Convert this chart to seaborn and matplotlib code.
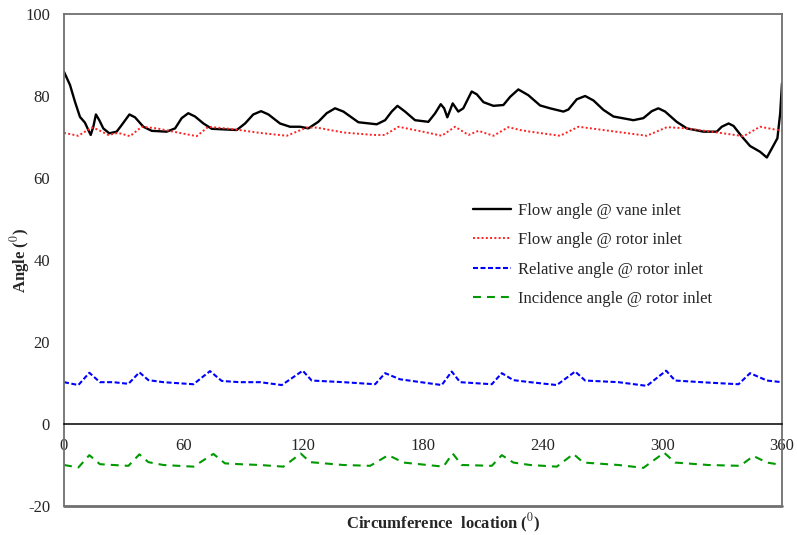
import numpy as np
import pandas as pd
import matplotlib
matplotlib.use("Agg")
import matplotlib.pyplot as plt
import seaborn as sns

# flow angle @ vane inlet (black)
vane_x = [0, 3, 5.5, 8, 10.5, 12.2, 13.4, 14.7, 16, 17.7, 19.7, 22.7, 26.4, 28.9, 32.8, 35.6,
          39.8, 44, 51.5, 55.7, 59, 62.3, 65.7, 69.9, 74.1, 86.6, 90.8, 94.9, 98.8, 102.5,
          108.3, 113.3, 118.4, 122.5, 127.5, 131.7, 135.9, 140.1, 147.6, 156.8, 161, 164.3,
          167.2, 171, 176, 182.7, 186.1, 188.9, 190.6, 192.2, 194.9, 197.7, 200.2, 204.4,
          207, 210.3, 215.3, 220.3, 223.7, 227.8, 232.8, 238.7, 243.7, 250.4, 252.9, 257.1,
          261.3, 265.5, 270.5, 275.5, 285.5, 290.5, 294.7, 298, 301.4, 307.2, 312.3, 320.6,
          327.3, 329.8, 333.2, 335.7, 339.9, 344, 349, 352.4, 354.9, 357.7, 359.1, 360]
vane_y = [85.9, 82.7, 78.6, 74.9, 73.5, 71.7, 70.5, 72.5, 75.5, 74.1, 72.1, 70.9, 71.3, 72.9,
          75.5, 74.8, 72.5, 71.5, 71.3, 72.1, 74.6, 75.8, 75, 73.3, 72, 71.7, 73.3, 75.5,
          76.3, 75.5, 73.3, 72.5, 72.5, 72.1, 73.7, 75.8, 77, 76.2, 73.6, 73.1, 74.1, 76.2,
          77.6, 76.2, 74.1, 73.7, 75.8, 78, 77, 74.8, 78.2, 76.2, 77, 81.1,
          80.4, 78.5, 77.6, 77.8, 79.8, 81.6, 80.2, 77.7, 77, 76.2, 76.7, 79.2,
          80, 78.9, 76.6, 75, 74.1, 74.6, 76.3, 77, 76.2, 73.7, 72.1, 71.3,
          71.3, 72.5, 73.3, 72.7, 70.1, 67.8, 66.4, 65, 67.2, 69.7, 75.8, 83.1]

# flow angle @ rotor inlet (red)
rotor_x = [0, 7.2, 13.9, 17, 22.2, 27.2, 33.1, 39, 46.5, 54.8, 66.5, 72.4, 84.9, 98.3, 111.7,
           121.7, 126.7, 140.1, 155.1, 160.9, 167.7, 181.9, 189.4, 196.1, 202.8, 207.8, 215.3,
           222.8, 228.7, 233.7, 248.7, 257.9, 270.5, 292.2, 302.3, 312.3, 329, 340.7, 349, 360]
rotor_y = [71, 70.3, 72.3, 71.8, 70.5, 71, 70.2, 72.5, 72.1, 71.3, 70.2, 72.5, 71.9, 71, 70.3,
           72.3, 72.3, 71.1, 70.5, 70.5, 72.5, 71.1, 70.3, 72.5, 70.5, 71.5, 70.3,
           72.4, 71.7, 71.3, 70.3, 72.5, 71.7, 70.3, 72.4, 72.1, 71, 70.2, 72.5, 71.5]

# relative angle @ rotor inlet (blue)
rel_x = [0, 7.2, 12.7, 18, 24.7, 32.3, 37.8, 42.3, 49.8, 64.9, 73.2, 79.1, 88, 98.3, 109.2,
         119.7, 124.2, 140.1, 156, 161, 168.5, 189.4, 194.4, 198.6, 214.5, 219.5, 225.3,
         233.7, 247.1, 256.3, 261.3, 278, 292.2, 301.9, 306.4, 323, 338.2, 344, 352.4, 360]
rel_y = [10.2, 9.5, 12.5, 10.2, 10.2, 9.8, 12.6, 10.7, 10.2, 9.7, 12.9, 10.5, 10.2, 10.2, 9.5,
         13, 10.6, 10.2, 9.7, 12.4, 10.9, 9.5, 12.8, 10.2, 9.7, 12.4, 10.7,
         10.2, 9.5, 12.8, 10.6, 10.2, 9.3, 13, 10.6, 10.1, 9.7, 12.4, 10.6, 10.2]

# incidence angle @ rotor inlet (green)
inc_x = [0, 7.2, 12.7, 18, 24.7, 32.3, 37.8, 42.3, 49.8, 64.9, 74.9, 80.7, 88, 98.3, 110,
         118.7, 123.4, 140, 153.5, 162.6, 170.2, 190.2, 194.9, 199.4, 214.5, 219.5, 225.3,
         233.7, 247.1, 255.4, 260.4, 278, 290.5, 300.9, 306.4, 323, 339, 345.7, 352.4, 360]
inc_y = [-10, -10.6, -7.6, -9.8, -10, -10.2, -7.4, -9.3, -10, -10.4, -7.3, -9.6, -9.8, -10, -10.4,
         -7.2, -9.3, -10, -10.2, -7.6, -9.4, -10.4, -7.2, -10, -10.2, -7.6, -9.4,
         -10, -10.4, -7.3, -9.4, -10, -10.7, -7, -9.4, -10, -10.2, -7.8, -9.4, -10]

labels = ["Flow angle @ vane inlet", "Flow angle @ rotor inlet",
          "Relative angle @ rotor inlet", "Incidence angle @ rotor inlet"]

sns.set_style("white")
plt.rcParams['font.family'] = ['Liberation Serif', 'DejaVu Serif']
plt.rcParams['mathtext.fontset'] = 'stix'
plt.rcParams['axes.unicode_minus'] = False

fig = plt.figure(figsize=(7.97, 5.35), dpi=100)
ax = fig.add_axes([64/797, 1-506/535, 718/797, 492/535])

series = [
    (vane_x, vane_y, dict(color='black', lw=1.7, linestyle='-')),
    (rotor_x, rotor_y, dict(color='#ff2020', lw=1.4, linestyle=(0, (1, 1.2)))),
    (rel_x, rel_y, dict(color='#0000ff', lw=1.5, linestyle=(0, (2.4, 1.2)))),
    (inc_x, inc_y, dict(color='#009a00', lw=1.5, linestyle=(0, (3.8, 2.9)))),
]
for (xs, ys, kw), lab in zip(series, labels):
    d = pd.DataFrame({'x': xs, 'y': ys})
    sns.lineplot(data=d, x='x', y='y', ax=ax, label=lab, sort=False, estimator=None, **kw)

ax.set_xlim(0, 360)
ax.set_ylim(-20, 100)
ax.set_xticks(np.arange(0, 361, 60))
ax.set_yticks(np.arange(-20, 101, 20))

# frame: grey box, black zero line carrying the x tick labels
for s in ['left', 'right', 'top']:
    ax.spines[s].set_color('#707070')
    ax.spines[s].set_linewidth(1.3)
ax.spines['bottom'].set_position(('data', 0))
ax.spines['bottom'].set_color('black')
ax.spines['bottom'].set_linewidth(1.1)
ax.axhline(-20, color='#707070', lw=2.0, clip_on=False)

ax.tick_params(axis='both', length=0, labelsize=12)
ax.tick_params(axis='x', pad=10)
ax.tick_params(axis='y', pad=10)

ax.set_xlabel(r"Circumference  location ($^{0}$)", fontsize=12, fontweight='bold')
ax.xaxis.set_label_coords((443-64)/718, -0.011)
ax.xaxis.label.set_va('top')
ax.set_ylabel(r"Angle ($^{0}$)", fontsize=12, fontweight='bold')
ax.yaxis.set_label_coords((20-64)/718, 0.5)
ax.yaxis.label.set_va('center')

ax.legend(loc='upper left', bbox_to_anchor=((473-64)/718, (506-203)/492), frameon=False,
          fontsize=12, handlelength=2.3, handletextpad=0.4, labelspacing=0.8,
          borderpad=0, borderaxespad=0)

fig.savefig("out.png", dpi=100)
